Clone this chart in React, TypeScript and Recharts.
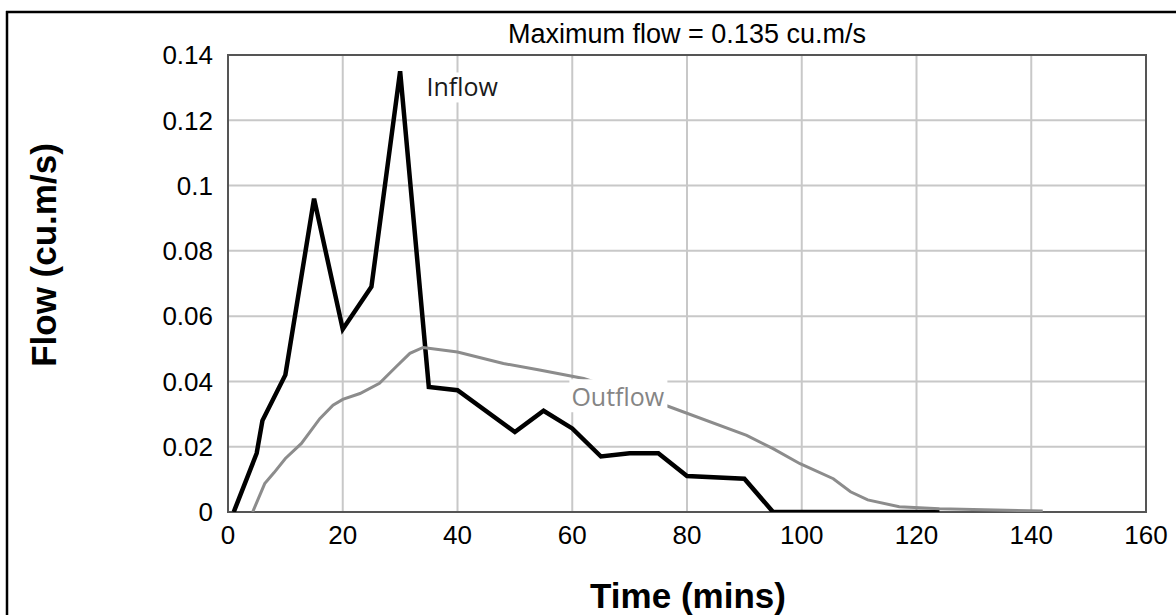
import React from 'react';
import { LineChart, Line, XAxis, YAxis, CartesianGrid, ReferenceArea, ReferenceDot } from 'recharts';

const inflowTime = [1, 5, 6, 10, 15, 20, 25, 30, 35, 40, 50, 55, 60, 65, 70, 75, 80, 90, 95, 124];
const inflowFlow = [0, 0.018, 0.028, 0.042, 0.096, 0.056, 0.069, 0.135, 0.0383, 0.0373, 0.0245, 0.031, 0.0256, 0.017, 0.018, 0.018, 0.011, 0.0102, 0, 0];

const outflowTime = [4.3, 6.4, 8, 10, 12.8, 16, 18.3, 20, 23, 26.4, 29.3, 31.7, 34, 40, 48, 54.3, 62, 76.7, 90.4, 95, 99.7, 105.5, 108.5, 111.5, 117, 124, 142];
const outflowFlow = [0, 0.0087, 0.012, 0.0164, 0.021, 0.0286, 0.0327, 0.0345, 0.0363, 0.0394, 0.0445, 0.0486, 0.0504, 0.049, 0.0455, 0.0435, 0.0409, 0.0324, 0.0235, 0.0194, 0.0148, 0.0102, 0.0062, 0.0037, 0.0016, 0.001, 0.0003];

const xTicks = [0, 20, 40, 60, 80, 100, 120, 140, 160];
const yTicks = [0, 0.02, 0.04, 0.06, 0.08, 0.1, 0.12, 0.14];

const titleText = 'Maximum flow = 0.135 cu.m/s';
const xTitle = 'Time (mins)';
const yTitle = 'Flow (cu.m/s)';
const inflowName = 'Inflow';
const outflowName = 'Outflow';
const inflowLabelAt = { t: 34.6, v: 0.1273 };
const outflowLabelAt = { t: 59.85, v: 0.0324 };

const inflowData = inflowTime.map((t, i) => ({ t, v: inflowFlow[i] }));
const outflowData = outflowTime.map((t, i) => ({ t, v: outflowFlow[i] }));

const FONT = '"Liberation Sans", Arial, sans-serif';
const LABEL_FONT = '"Open Sans", "Noto Sans", sans-serif';

const BoxLabel = (props: any) => {
  const { viewBox, text, color, boxW, up, down } = props;
  const x = viewBox.x + (viewBox.width || 0) / 2;
  const y = viewBox.y + (viewBox.height || 0) / 2;
  return (
    <g>
      <rect x={x - 2} y={y - up} width={boxW} height={up + down} fill="#ffffff" />
      <text x={x} y={y} fontFamily={LABEL_FONT} fontSize={25} fill={color}>{text}</text>
    </g>
  );
};

export default function App() {
  return (
    <div style={{ position: 'absolute', left: 0, top: 0, width: 1176, height: 615, background: '#fff' }}>
      <LineChart width={1176} height={615} margin={{ top: 55, right: 30, bottom: 43, left: 0 }}>
        <CartesianGrid stroke="#c8c8c8" strokeWidth={2} />
        <XAxis
          type="number"
          dataKey="t"
          domain={[0, 160]}
          ticks={xTicks}
          interval={0}
          tickLine={false}
          axisLine={false}
          tickSize={0}
          tickMargin={14}
          height={60}
          tick={{ fill: '#000', fontSize: 26, fontFamily: FONT }}
          allowDataOverflow
        />
        <YAxis
          type="number"
          domain={[0, 0.14]}
          ticks={yTicks}
          interval={0}
          tickLine={false}
          axisLine={false}
          tickSize={0}
          tickMargin={15}
          width={228}
          tickFormatter={(v: number) => String(v)}
          tick={{ fill: '#000', fontSize: 26, fontFamily: FONT }}
          allowDataOverflow
        />
        <ReferenceArea x1={0} x2={160} y1={0} y2={0.14} fill="none" stroke="#555" strokeWidth={2} />
        <Line data={inflowData} dataKey="v" type="linear" stroke="#000" strokeWidth={4.5} dot={false} isAnimationActive={false} />
        <Line data={outflowData} dataKey="v" type="linear" stroke="#8c8c8c" strokeWidth={3} dot={false} isAnimationActive={false} />
        <ReferenceDot
          x={inflowLabelAt.t}
          y={inflowLabelAt.v}
          r={1}
          fill="none"
          stroke="none"
          label={<BoxLabel text={inflowName} color="#1a1a1a" boxW={76} up={24} down={6} />}
        />
        <ReferenceDot
          x={outflowLabelAt.t}
          y={outflowLabelAt.v}
          r={1}
          fill="none"
          stroke="none"
          label={<BoxLabel text={outflowName} color="#858585" boxW={98} up={27} down={6} />}
        />
      </LineChart>
      <svg width={1176} height={615} style={{ position: 'absolute', left: 0, top: 0, pointerEvents: 'none' }}>
        <line x1={6} y1={12} x2={1176} y2={12} stroke="#000" strokeWidth={2.5} />
        <line x1={7} y1={11} x2={7} y2={615} stroke="#000" strokeWidth={2.5} />
        <text x={687} y={43} textAnchor="middle" fontFamily={FONT} fontSize={27} fill="#000">{titleText}</text>
        <text x={688} y={608} textAnchor="middle" fontFamily={FONT} fontSize={35} fontWeight="bold" fill="#000">{xTitle}</text>
        <text
          x={0}
          y={0}
          transform="translate(56,255) rotate(-90)"
          textAnchor="middle"
          fontFamily={FONT}
          fontSize={35}
          fontWeight="bold"
          fill="#000"
        >{yTitle}</text>
      </svg>
    </div>
  );
}
